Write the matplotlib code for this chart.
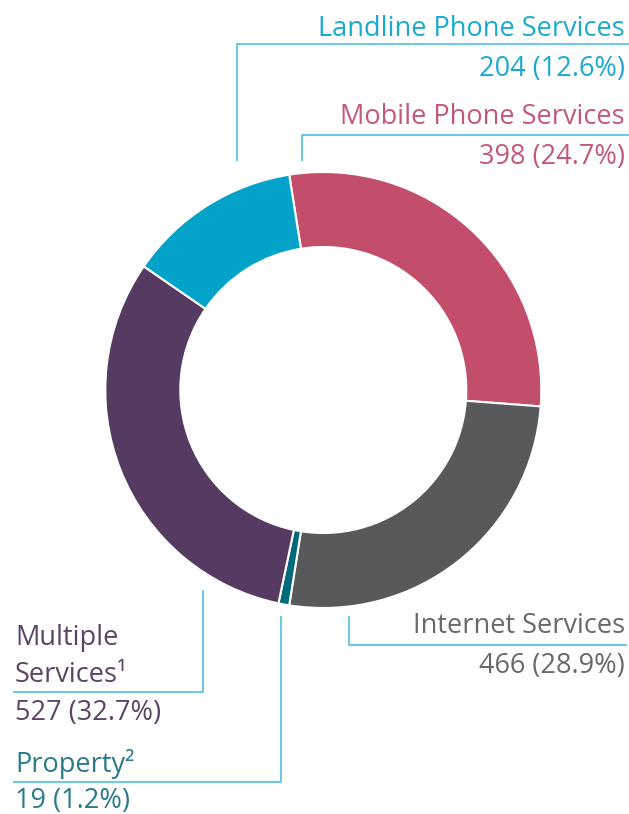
import matplotlib.pyplot as plt

# Beschriftungen und Werte (Text aus der Grafik)
kategorien = ["Mobile Phone Services", "Internet Services", "Property", "Multiple Services", "Landline Phone Services"]
anzahl = [398, 466, 19, 527, 204]
prozent = [24.7, 28.9, 1.2, 32.7, 12.6]
# Anteile der Ringsegmente, wie sie im Bild gezeichnet sind (in % des Kreises)
segment_anteil = [28.7, 26.3, 0.8, 31.3, 12.9]

farben = ["#C24E6C", "#58595B", "#00697A", "#553A61", "#03A3C9"]
textfarben = ["#C4587A", "#68696B", "#2A7B89", "#5B4467", "#1AAACF"]
linienfarbe = "#5BC5DE"

B, H = 629, 814
fig = plt.figure(figsize=(B / 100, H / 100), dpi=100)
ax = fig.add_axes([0, 0, 1, 1])

ax.pie(segment_anteil, colors=farben, startangle=99, counterclock=False,
       center=(323.3, H - 390), radius=218,
       wedgeprops=dict(width=75, edgecolor="white", linewidth=1.5))
ax.set_xlim(0, B)
ax.set_ylim(0, H)
ax.set_aspect("equal")
ax.axis("off")

schrift = dict(family=["Open Sans", "DejaVu Sans"], fontsize=19.5, fontweight="normal")

def linie(xs, ys):
    ax.plot(xs, [H - y for y in ys], color=linienfarbe, lw=1.3, solid_capstyle="butt")

def text(x, y, s, farbe, ha):
    ax.text(x, H - y, s, color=farbe, ha=ha, va="baseline", **schrift)

# Landline
linie([236.7, 236.7, 629], [161, 44.3, 44.3])
text(625, 36, kategorien[4], textfarben[4], "right")
text(625, 76, f"{anzahl[4]} ({prozent[4]}%)", textfarben[4], "right")

# Mobile
linie([301.7, 301.7, 629], [161, 134.7, 134.7])
text(625, 124, kategorien[0], textfarben[0], "right")
text(625, 164, f"{anzahl[0]} ({prozent[0]}%)", textfarben[0], "right")

# Internet
linie([349.3, 349.3, 627], [616, 645, 645])
text(625, 633, kategorien[1], textfarben[1], "right")
text(625, 673, f"{anzahl[1]} ({prozent[1]}%)", textfarben[1], "right")

# Multiple
linie([203.3, 203.3, 13], [590, 691.7, 691.7])
text(15, 645, "Multiple", textfarben[3], "left")
text(15, 681.7, "Services\u00b9", textfarben[3], "left")
text(15, 720, f"{anzahl[3]} ({prozent[3]}%)", textfarben[3], "left")

# Property
linie([281.3, 281.3, 13], [616, 781.7, 781.7])
text(15, 771.7, kategorien[2] + "\u00b2", textfarben[2], "left")
text(15, 808, f"{anzahl[2]} ({prozent[2]}%)", textfarben[2], "left")

fig.savefig("out.png", dpi=100)
